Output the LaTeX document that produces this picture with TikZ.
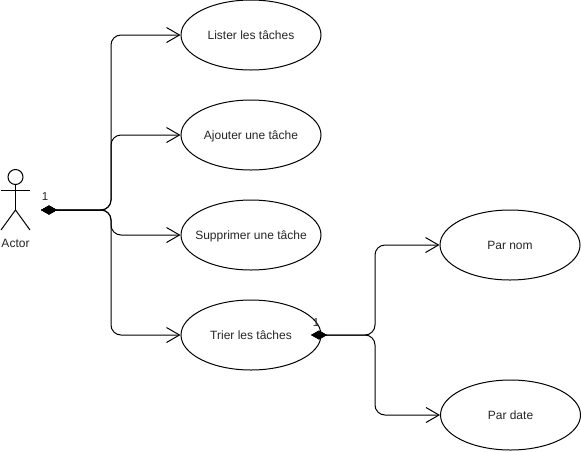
\documentclass[tikz,border=0pt]{standalone}
\usepackage{fontspec}
\setmainfont{Liberation Sans}
\usetikzlibrary{arrows.meta,shapes.geometric}
\newcommand{\casetext}[1]{\makebox[0pt][c]{\raisebox{-4.6pt}[0pt][0pt]{#1}}}
\tikzset{
  usecase/.style={draw=black,line width=1pt,ellipse,minimum width=140pt,minimum height=70pt,inner sep=0pt,font=\fontsize{12}{14}\selectfont,text=black!85},
  link/.style={draw=black,line width=1pt,rounded corners=10pt,{Diamond[length=16pt,width=9pt,fill=black]}-{Straight Barb[length=13pt,width=15pt,line width=1pt,fill=none]}},
  mult/.style={font=\fontsize{11.5}{13}\selectfont,inner sep=0pt,text=black!85},
  actorline/.style={draw=black,line width=1pt}
}
\begin{document}
\begin{tikzpicture}[x=1pt,y=-1pt]
\useasboundingbox[fill=white] (0,0) rectangle (581,451);
\node[usecase] (lister) at (251,35) {\casetext{Lister les tâches}};
\node[usecase] (ajouter) at (251,135) {\casetext{Ajouter une tâche}};
\node[usecase] (supprimer) at (251,235) {\casetext{Supprimer une tâche}};
\node[usecase] (trier) at (251,335) {\casetext{Trier les tâches}};
\node[usecase] (nom) at (510,245) {\casetext{Par nom}};
\node[usecase] (date) at (510.5,415) {\casetext{Par date}};
% actor
\node[draw=black,line width=1pt,circle,minimum size=15pt,inner sep=0pt] (head) at (15.5,177) {};
\coordinate (hip) at (15.5,210);
\coordinate (armL) at (1,190);
\coordinate (armR) at (30,190);
\coordinate (legL) at (1,230);
\coordinate (legR) at (30,230);
\draw[actorline] (head.south) -- (hip);
\draw[actorline] (armL) -- (armR);
\draw[actorline] (legL) -- (hip) -- (legR);
\node[font=\fontsize{12}{14}\selectfont,inner sep=0pt,text=black!85] (actor) at (15.5,243.5) {Actor};
% connectors
\coordinate (src) at (41,210);
\coordinate (busA) at (111,210);
\coordinate (srcB) at (311,335);
\coordinate (busB) at (375,335);
\draw[link] (src) -- (busA) |- (lister.west);
\draw[link] (src) -- (busA) |- (ajouter.west);
\draw[link] (src) -- (busA) |- (supprimer.west);
\draw[link] (src) -- (busA) |- (trier.west);
\draw[link] (srcB) -- (busB) |- (nom.west);
\draw[link] (srcB) -- (busB) |- (date.west);
\node[mult] (m1) at (45,197) {1};
\node[mult] (m2) at (316,323) {1};
\end{tikzpicture}
\end{document}
